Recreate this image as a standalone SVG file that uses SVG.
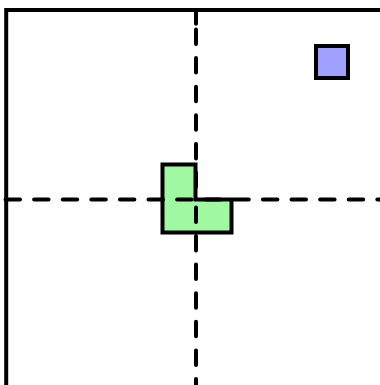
<svg xmlns="http://www.w3.org/2000/svg" width="380" height="385" viewBox="0 0 380 385">
<style>
.frame{fill:none;stroke:#000;stroke-width:4;stroke-linejoin:miter}
.axis{fill:none;stroke:#000;stroke-width:4;stroke-linecap:round;stroke-dasharray:14.5 14.1}
.frag{fill:none;stroke:#000;stroke-width:4;stroke-linecap:round}
.shape{stroke:#000;stroke-width:4;stroke-linejoin:miter}
</style>
<rect width="380" height="385" fill="#fff"/>
<g id="green-shape">
<polygon class="shape" fill="#a0f8a0" points="162.5,164.5 195.5,164.5 195.5,199.5 231.5,199.5 231.5,232.5 162.5,232.5"/>
</g>
<g id="blue-square">
<rect class="shape" fill="#a0a0ff" x="316" y="46" width="32" height="32"/>
</g>
<g id="connectors">
<path class="frame" d="M6.2,385 V10 H380"/>
<line class="axis" x1="5.5" y1="199.5" x2="380" y2="199.5"/>
<line class="frag" x1="196" y1="12" x2="196" y2="23.7"/>
<line class="axis" x1="196" y1="29.5" x2="196" y2="199"/>
<line class="axis" x1="196" y1="207.4" x2="196" y2="385"/>
</g>
</svg>
